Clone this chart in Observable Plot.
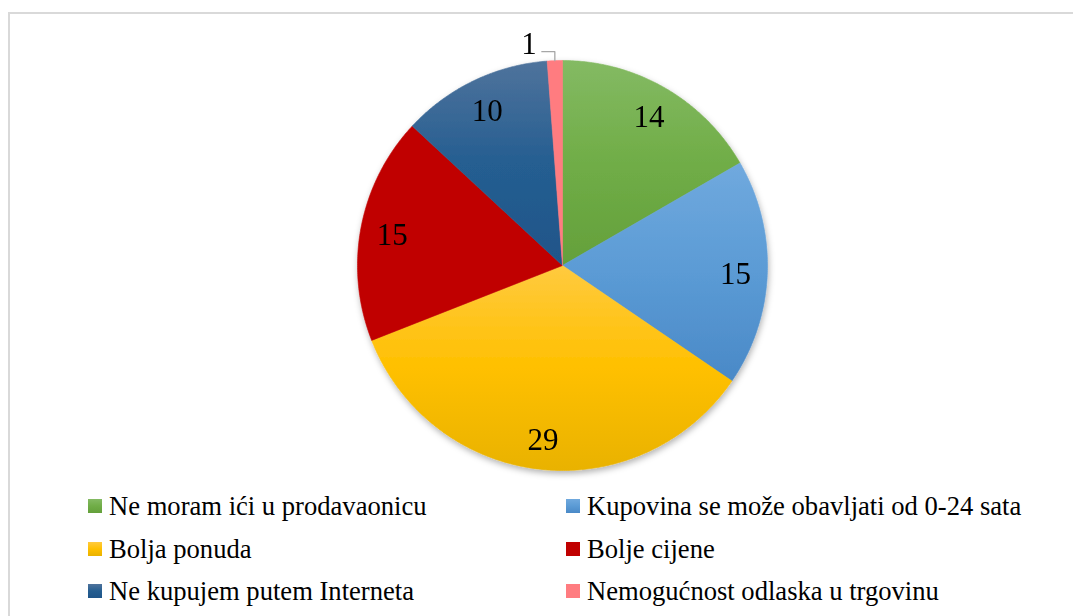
<!DOCTYPE html>
<html>
<head>
<meta charset="utf-8">
<script src="https://cdn.jsdelivr.net/npm/d3@7"></script>
<script src="https://cdn.jsdelivr.net/npm/@observablehq/plot@0.6"></script>
<style>
  html, body { margin: 0; padding: 0; background: #fff; overflow: hidden; width: 1073px; height: 616px; }
  #frame { position: absolute; left: 8px; top: 12px; width: 1100px; height: 640px; border: 2px solid #d9d9d9; box-sizing: border-box; }
  #chart { position: absolute; left: 0; top: 0; }
  #legend { position: absolute; left: 0; top: 484px; width: 1073px; font-family: 'Liberation Serif', 'Times New Roman', serif; font-size: 26.6px; line-height: 30px; color: #000; }
  .item { position: absolute; display: flex; align-items: center; white-space: nowrap; height: 30px; }
  .sw { width: 14px; height: 14px; margin-right: 7px; flex: none; }
</style>
</head>
<body>
<div id="frame"></div>
<div id="chart"></div>
<div id="legend"></div>
<script>
// ---- data ----
const categories = [
  "Ne moram ići u prodavaonicu",
  "Kupovina se može obavljati od 0-24 sata",
  "Bolja ponuda",
  "Bolje cijene",
  "Ne kupujem putem Interneta",
  "Nemogućnost odlaska u trgovinu"
];
const values = [14, 15, 29, 15, 10, 1];
const baseColors = ["#70ad47", "#5b9bd5", "#ffc000", "#c00000", "#255e91", "#ff7c80"];
const topColors  = ["#84ba63", "#70a9de", "#ffca3f", "#c00000", "#4f739c", "#ff7c80"];
const bottomColors = ["#64a03b", "#4a89c7", "#e9b200", "#c00000", "#1f5589", "#ff7c80"];

const FONT = "'Liberation Serif', 'Times New Roman', serif";

// ---- geometry from data ----
const pie = d3.pie().sort(null).value(d => d)(values);
const slices = pie.map((p, i) => {
  const pts = [{x: 0, y: 0, i}];
  const n = Math.max(2, Math.ceil((p.endAngle - p.startAngle) / (Math.PI / 360)));
  for (let k = 0; k <= n; k++) {
    const a = p.startAngle + (p.endAngle - p.startAngle) * k / n;
    pts.push({x: Math.sin(a), y: Math.cos(a), i});
  }
  pts.push({x: 0, y: 0, i});
  return pts;
});
const total = d3.sum(values);
const labels = pie.map((p, i) => {
  const mid = (p.startAngle + p.endAngle) / 2;
  const small = values[i] / total < 0.03;
  const r = small ? 1.044 : 0.845;
  return {i, value: values[i], small, mid, x: Math.sin(mid) * r, y: Math.cos(mid) * r};
});

const R = 205, CX = 562, CY = 265;
const marks = [];
slices.forEach((pts, i) => {
  marks.push(Plot.line(pts, {x: "x", y: "y", fill: `url(#grad${i})`, stroke: `url(#grad${i})`, strokeWidth: 0.6, curve: "linear"}));
});
// leader line for small slices
labels.filter(d => d.small).forEach(d => {
  const edge = {x: Math.sin(d.mid), y: Math.cos(d.mid)};
  const elbow = {x: edge.x, y: d.y};
  const end = {x: edge.x - 13 / R, y: d.y};
  marks.push(Plot.line([edge, elbow, end], {x: "x", y: "y", stroke: "#a6a6a6", strokeWidth: 1.3}));
  marks.push(Plot.text([d], {x: () => end.x, y: "y", text: "value", textAnchor: "end", dx: -5, dy: -8,
    fontSize: 31, fontFamily: FONT, fill: "#000"}));
});
marks.push(Plot.text(labels.filter(d => !d.small), {x: "x", y: "y", text: "value", fontSize: 31, dy: 2,
  fontFamily: FONT, fill: "#000"}));

const svg = Plot.plot({
  width: 1073,
  height: 484,
  margin: 0,
  x: {type: "linear", domain: [-1, 1], range: [CX - R, CX + R], axis: null},
  y: {type: "linear", domain: [-1, 1], range: [CY + R, CY - R], axis: null},
  style: {background: "transparent", overflow: "visible", fontFamily: FONT},
  marks
});

// gradient defs + soft shadow
const defs = d3.select(svg).insert("defs", ":first-child");
values.forEach((v, i) => {
  const g = defs.append("linearGradient").attr("id", `grad${i}`)
    .attr("x1", 0).attr("y1", 0).attr("x2", 0).attr("y2", 1);
  g.append("stop").attr("offset", "0%").attr("stop-color", topColors[i]);
  g.append("stop").attr("offset", "50%").attr("stop-color", baseColors[i]);
  g.append("stop").attr("offset", "100%").attr("stop-color", bottomColors[i]);
});
const f = defs.append("filter").attr("id", "shadow").attr("x", "-10%").attr("y", "-10%").attr("width", "130%").attr("height", "130%");
f.append("feDropShadow").attr("dx", 1).attr("dy", 3).attr("stdDeviation", 3).attr("flood-color", "#000").attr("flood-opacity", 0.3);
const lineGroups = d3.select(svg).selectAll("g[aria-label='line']").nodes().slice(0, values.length);
const pieGroup = d3.select(svg).insert("g", () => lineGroups[0]).attr("filter", "url(#shadow)");
lineGroups.forEach(n => pieGroup.node().appendChild(n));

document.getElementById("chart").appendChild(svg);

// ---- legend ----
const legend = document.getElementById("legend");
const colX = [88, 566];
const rowY = [22, 65, 107];
categories.forEach((c, i) => {
  const item = document.createElement("div");
  item.className = "item";
  item.style.left = colX[i % 2] + "px";
  item.style.top = (rowY[Math.floor(i / 2)] - 15) + "px";
  const sw = document.createElement("span");
  sw.className = "sw";
  sw.style.background = `linear-gradient(${topColors[i]}, ${baseColors[i]} 50%, ${bottomColors[i]})`;
  const t = document.createElement("span");
  t.textContent = c;
  item.appendChild(sw);
  item.appendChild(t);
  legend.appendChild(item);
});
</script>
</body>
</html>
